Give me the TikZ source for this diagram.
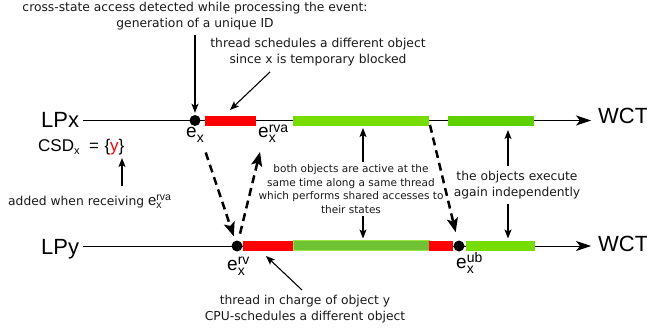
\documentclass[tikz,border=0pt]{standalone}
\usepackage{fontspec}
\setmainfont{DejaVu Sans}
\newfontfamily\arial{Liberation Sans}
\usetikzlibrary{arrows.meta,calc}
\definecolor{barred}{RGB}{255,0,0}
\definecolor{lgreen}{RGB}{119,221,0}
\definecolor{dgreen}{RGB}{92,208,0}
\definecolor{mgreen}{RGB}{110,194,52}
\definecolor{ink}{RGB}{25,25,25}
% event symbols: e with subscript x and an optional superscript
% \evsub{size}{drop}, \evsup{size}{rise}{text}
\newcommand{\evsub}[2]{\raisebox{-#2}{\fontsize{#1}{#1}\selectfont x}}
\newcommand{\evsup}[3]{\raisebox{#2}{\fontsize{#1}{#1}\selectfont #3}}
\newcommand{\evx}[1]{e\rlap{\evsub{14}{5pt}}\evsup{14}{5.5pt}{#1}}
\begin{document}
\begin{tikzpicture}[x=1pt,y=-1pt,
  note/.style={font=\fontsize{12.3}{15.5}\selectfont, align=center, text=ink, inner sep=0pt},
  smallnote/.style={font=\fontsize{10.5}{13.4}\selectfont, align=center, text=ink, inner sep=0pt},
  lp/.style={font=\arial\fontsize{22}{22}\selectfont, inner sep=0pt, anchor=base west},
  evlabel/.style={font=\arial\fontsize{19}{19}\selectfont, inner sep=0pt, anchor=base west},
  dot/.style={circle, fill=black, minimum size=11pt, inner sep=0pt},
  bar/.style={minimum height=10pt, inner sep=0pt, anchor=west, outer sep=0pt},
  timeline/.style={line width=0.9pt, -{Stealth[length=15pt,width=10pt,inset=4pt]}},
  pointer/.style={line width=1.1pt, -{Stealth[length=9pt,width=7pt,inset=2pt]}},
  msg/.style={line width=2.5pt, dash pattern=on 8pt off 5pt, -{Stealth[length=14pt,width=11pt,inset=3pt]}}
]
\useasboundingbox (0,0) rectangle (647,331);

% process labels
\node[lp] (lpx) at (41,128) {LPx};
\node[lp] (lpy) at (41,254) {LPy};
\node[lp] (wctx) at (598,124) {WCT};
\node[lp] (wcty) at (598,251) {WCT};

% event dots
\node[dot] (ex) at (195,120.5) {};
\node[dot] (rv) at (237,246) {};
\node[dot] (ub) at (459,246) {};

% timelines
\draw[timeline, shorten <=4pt, shorten >=7pt] (lpx.east |- ex.center) -- (wctx.west |- ex.center);
\draw[timeline, shorten <=4pt, shorten >=7pt] (lpy.east |- rv.center) -- (wcty.west |- rv.center);

% activity bars on LPx
\node[bar, fill=barred, minimum width=51pt] (rx) at (205,121) {};
\node[bar, fill=lgreen, minimum width=136pt] (gx1) at (293,121) {};
\node[bar, fill=dgreen, minimum width=86pt] (gx2) at (448,121) {};

% activity bars on LPy
\node[bar, fill=barred, minimum width=50pt] (ry1) at (243,245.5) {};
\node[bar, fill=mgreen, draw=lgreen!75, line width=0.7pt, minimum width=136pt] (gy) at (293,245.5) {};
\node[bar, fill=barred, minimum width=24pt] (ry2) at (429,245.5) {};
\node[bar, fill=lgreen, minimum width=69pt] (gy2) at (466,245.5) {};

% event labels
\node[evlabel] (exl) at (186,138) {e\evsub{14}{5pt}};
\node[evlabel] (rval) at (258,138) {\evx{rva}};
\node[evlabel] (rvl) at (227,270) {\evx{rv}};
\node[evlabel] (ubl) at (456,268) {\evx{ub}};

% messages between the two processes
\coordinate (rvatip) at (260,152);
\draw[msg, shorten <=28pt, shorten >=4.5pt] (ex) -- (rv);
\draw[msg, shorten <=7pt] (rv) -- (rvatip);
\draw[msg, shorten <=4pt, shorten >=8.5pt] (gx1.east) -- (ub);

% annotations
\node[note] (n1) at (195,16) {cross-state access detected while processing the event:\\generation of a unique ID};
\draw[pointer, shorten <=5pt, shorten >=2pt] (n1.south) -- (ex.north);

\node[note] (n2) at (318,52) {thread schedules a different object\\since x is temporary blocked};
\coordinate (n2s) at (270,72);
\coordinate (n2t) at (230,110);
\draw[pointer] (n2s) -- (n2t);

\node[font=\arial\fontsize{17}{17}\selectfont, inner sep=0pt, anchor=base west] (csd) at (38,152)
  {CSD\evsub{11}{2.5pt}\hspace{9.5pt}=\hspace{5.5pt}\{\textcolor{red}{y}\}};
\node[note, anchor=base west] (added) at (8,205)
  {added when receiving {\arial\fontsize{15}{15}\selectfont e\rlap{\evsub{10.5}{3.5pt}}\evsup{10.5}{4.5pt}{rva}}};
\coordinate (csdt) at (122,158);
\coordinate (addeds) at (122,186);
\draw[pointer] (addeds) -- (csdt);

\node[smallnote] (both) at (351,189) {both objects are active at the\\same time along a same thread\\which performs shared accesses to\\their states};
\draw[pointer, shorten <=3pt, shorten >=2pt] (both.north -| 363,0) -- (gx1.south -| 363,0);
\draw[pointer, shorten <=3pt, shorten >=2pt] (both.south -| 363,0) -- (gy.north -| 363,0);

\node[note] (again) at (517,185) {the objects execute\\again independently};
\draw[pointer, shorten <=5pt, shorten >=4pt] (again.north -| 508,0) -- (gx2.south -| 508,0);
\draw[pointer, shorten <=5pt, shorten >=2pt] (again.south -| 508,0) -- (gy2.north -| 508,0);

\node[note] (n3) at (305,309) {thread in charge of object y\\CPU-schedules a different object};
\coordinate (n3s) at (302,290);
\coordinate (n3t) at (266,256);
\draw[pointer] (n3s) -- (n3t);
\end{tikzpicture}
\end{document}
